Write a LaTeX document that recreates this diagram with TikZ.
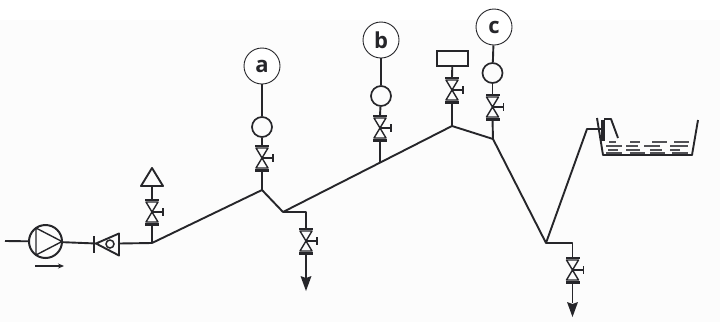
\documentclass[tikz,border=0pt]{standalone}
\usepackage{fontspec}
\setmainfont{Open Sans}
\usetikzlibrary{arrows.meta}
\definecolor{ink}{HTML}{26262A}
\tikzset{
  x=1pt,y=-1pt,
  pipe/.style={draw=ink,line width=1.9pt,line join=round},
  thin pipe/.style={draw=ink,line width=1.4pt,line join=round},
  gauge/.style={circle,draw=ink,line width=1.7pt,minimum size=20pt,inner sep=0pt},
  callout/.style={circle,draw=ink,line width=0.9pt,fill=white,minimum size=36pt,inner sep=0pt,font=\fontsize{22}{22}\selectfont\bfseries,text=ink},
  pics/shutoff/.style={code={
    \coordinate (-top) at (0,-12.5);
    \coordinate (-bot) at (0,12.5);
    \draw[thin pipe] (-6,-10) -- (6,-10) -- (-6,10) -- (6,10) -- cycle;
    \fill[ink] (-7,-13.5) rectangle (7,-11);
    \fill[ink] (-7,10.5) rectangle (7,13.5);
    \draw[thin pipe] (0,0) -- (11,0);
    \draw[thin pipe] (11,-4) -- (11,4);
  }},
  pics/drain/.style={code={
    \fill[ink] (-5.5,-15) -- (0,-13) -- (5.5,-15) -- (0,0) -- cycle;
  }}
}
\begin{document}
\begin{tikzpicture}
\useasboundingbox (0,0) rectangle (720,322);
\fill[white] (0,0) rectangle (720,322);
\fill[black!1] (0,20) rectangle (720,322);

% junctions
\coordinate (in) at (5,241);
\coordinate (j0) at (152,243);
\coordinate (j1) at (262,190);
\coordinate (j2) at (283,212);
\coordinate (j3) at (380,162);
\coordinate (j4) at (452,126);
\coordinate (j5) at (493,139);
\coordinate (j6) at (546,243);
\coordinate (j7) at (587,129);
\coordinate (tankin) at (602,129);

% pump
\node[circle,draw=ink,line width=2pt,minimum size=33pt,inner sep=0pt] (pump) at (45.5,241.5) {};
\draw[thin pipe] (36,228) -- (62,241.5) -- (36,255) -- cycle;
\draw[pipe] (in) -- (pump);
\draw[-{Stealth[length=6pt,width=5pt]},ink,line width=1.1pt] (35,266) -- (64,266);

% check valve
\coordinate (chk) at (96,243.5);
\draw[pipe] (94,236) -- (94,253);
\draw[pipe] (96,243.5) -- (119,233.5) -- (119,255.5) -- cycle;
\node[circle,draw=ink,line width=1.5pt,minimum size=8pt,inner sep=0pt] (ball) at (110,244) {};
\draw[pipe] (pump) -- (chk);
\draw[pipe] (119,243.5) -- (j0);

% main line
\draw[pipe] (j0) -- (j1) -- (j2) -- (j4) -- (j5) -- (j6) -- (j7) -- (tankin);

% vent branch
\pic (v0) at (152,212) {shutoff};
\draw[pipe] (j0) -- (v0-bot);
\draw[pipe] (152,168) -- (141,186) -- (163,186) -- cycle;
\draw[pipe] (v0-top) -- (152,186);

% branch a
\pic (va) at (262,158) {shutoff};
\node[gauge] (ga) at (262,127) {};
\node[callout] (a) at (262,66) {a};
\draw[pipe] (j1) -- (va-bot);
\draw[pipe] (va-top) -- (ga);
\draw[pipe] (ga) -- (a);

% drain 1
\pic (vd1) at (306,241) {shutoff};
\draw[pipe] (j2) -- (306,212) -- (vd1-top);
\pic (ad1) at (306,291) {drain};
\draw[pipe] (vd1-bot) -- (306,278);

% branch b
\pic (vb) at (380,128) {shutoff};
\node[gauge] (gb) at (381,96) {};
\node[callout] (b) at (381,40) {b};
\draw[pipe] (j3) -- (vb-bot);
\draw[pipe] (vb-top) -- (gb);
\draw[pipe] (gb) -- (b);

% rectangle instrument
\pic (vr) at (452,90) {shutoff};
\node[draw=ink,line width=1.7pt,minimum width=31pt,minimum height=15pt,inner sep=0pt] (box) at (452.5,58.5) {};
\draw[pipe] (j4) -- (vr-bot);
\draw[pipe] (vr-top) -- (box);

% branch c
\pic (vc) at (492.5,107) {shutoff};
\node[gauge] (gc) at (492.5,73) {};
\node[callout] (c) at (494,27) {c};
\draw[pipe] (j5) -- (vc-bot);
\draw[pipe] (vc-top) -- (gc);
\draw[pipe] (gc) -- (c);

% drain 2
\pic (vd2) at (572.5,270) {shutoff};
\draw[pipe] (j6) -- (572.5,243) -- (vd2-top);
\pic (ad2) at (572.5,317) {drain};
\draw[pipe] (vd2-bot) -- (572.5,303);

% tank
\draw[pipe] (597,118) -- (603,155) -- (692,155) -- (698,120);
\draw[ink,line width=3.5pt] (603,120) -- (603,141);
\draw[pipe] (604,119) -- (611,119) -- (618,138);
\draw[ink!80,line width=1.1pt]
  (609,142)--(616,142) (630,142)--(640,142) (652,142)--(667,142) (674,142)--(689,142)
  (606,146)--(622,146) (626,146)--(638,146) (644,146)--(660,146) (670,146)--(688,146)
  (608,150)--(618,150) (626,150)--(640,150) (650,150)--(662,150) (670,150)--(680,150)
  (606,153)--(622,153) (630,153)--(645,153) (650,153)--(665,153) (672,153)--(688,153);
\end{tikzpicture}
\end{document}
